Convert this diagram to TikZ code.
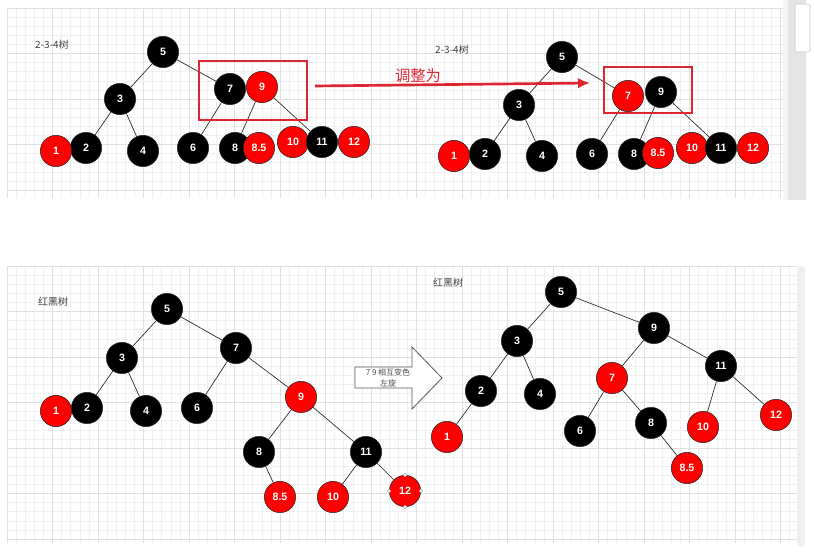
\documentclass[tikz,border=0pt]{standalone}
\usepackage{fontspec}
\setsansfont{Liberation Sans}
\newfontfamily\cjk{Noto Sans CJK SC}
\usepackage{tikz}
\usetikzlibrary{arrows.meta,backgrounds}
\usepackage{xcolor}
\definecolor{nodered}{RGB}{255,0,0}
\definecolor{boxred}{RGB}{222,38,48}
\definecolor{gridminor}{RGB}{240,240,240}
\definecolor{gridmajor}{RGB}{224,224,224}
\tikzset{
  bnode/.style={circle, draw=black!85, fill=black, text=white, minimum size=23.5pt, inner sep=0pt,
    font=\sffamily\bfseries\fontsize{8}{9}\selectfont},
  rnode/.style={bnode, fill=nodered},
  link/.style={draw=black!85, line width=0.5pt},
  title/.style={font=\cjk\fontsize{7.5}{9}\selectfont, text=black!75},
}
\begin{document}
\begin{tikzpicture}[x=0.75pt, y=-0.75pt]
        \useasboundingbox (0,0) rectangle (814,553);
        \begin{scope}[on background layer]
          \foreach \x in {0,...,85} {
            \draw[gridminor, line width=0.4pt] ({7+9.1*\x},8) -- ({7+9.1*\x},198);
          }
          \foreach \y in {0,...,20} {
            \draw[gridminor, line width=0.4pt] (7,{8+9.1*\y}) -- (783,{8+9.1*\y});
          }
          \foreach \x in {0,...,86} {
            \draw[gridminor, line width=0.4pt] ({7+9.1*\x},266) -- ({7+9.1*\x},543);
          }
          \foreach \y in {0,...,30} {
            \draw[gridminor, line width=0.4pt] (7,{266+9.1*\y}) -- (797,{266+9.1*\y});
          }
          \foreach \x in {0,...,17} {
            \draw[gridmajor, line width=0.4pt] ({7+45.5*\x},8) -- ({7+45.5*\x},198);
            \draw[gridmajor, line width=0.4pt] ({7+45.5*\x},266) -- ({7+45.5*\x},543);
          }
          \foreach \y in {0,...,4} {
            \draw[gridmajor, line width=0.4pt] (7,{8+45.5*\y}) -- (783,{8+45.5*\y});
          }
          \foreach \y in {0,...,6} {
            \draw[gridmajor, line width=0.4pt] (7,{266+45.5*\y}) -- (797,{266+45.5*\y});
          }
          \fill[gray!8] (783,0) rectangle (788,200);
          \fill[gray!20] (788,0) rectangle (806,200);
          \draw[gray!45, fill=white, rounded corners=1.5] (795,4) rectangle (810,52);
          \fill[gray!12, rounded corners=3] (797,266) rectangle (805,547);
        \end{scope}

        \node[title] (tltitle) at (52,45) {2-3-4树};
        \node[bnode] (tl5) at (163,52) {5};
        \node[bnode] (tl3) at (120,99) {3};
        \node[bnode] (tl7) at (230,89) {7};
        \node[rnode] (tl9) at (262,87) {9};
        \node[bnode] (tl2) at (86,148) {2};
        \node[rnode] (tl1) at (56,151) {1};
        \node[bnode] (tl4) at (143,151) {4};
        \node[bnode] (tl6) at (193,148) {6};
        \node[bnode] (tl8) at (235,148) {8};
        \node[rnode] (tl85) at (259,148) {8.5};
        \node[rnode] (tl10) at (293,142) {10};
        \node[bnode] (tl11) at (322,142) {11};
        \node[rnode] (tl12) at (354,142) {12};
        \draw[boxred, line width=1.5pt] (199,61) rectangle (307,120);

        \coordinate (arrowfrom) at (315,86);
        \coordinate (arrowto) at (590,83);
        \draw[boxred, line width=2pt, -{Latex[length=9pt,width=8pt]}] (arrowfrom) -- (arrowto);
        \node[font=\cjk\fontsize{11.5}{13}\selectfont, text=boxred] (adjust) at (418,76) {调整为};

        \node[title] (trtitle) at (452,50) {2-3-4树};
        \node[bnode] (tr5) at (562,57) {5};
        \node[bnode] (tr3) at (519,105) {3};
        \node[rnode] (tr7) at (628,96) {7};
        \node[bnode] (tr9) at (661,92) {9};
        \node[bnode] (tr2) at (485,154) {2};
        \node[rnode] (tr1) at (454,156) {1};
        \node[bnode] (tr4) at (542,156) {4};
        \node[bnode] (tr6) at (592,154) {6};
        \node[bnode] (tr8) at (634,154) {8};
        \node[rnode] (tr85) at (658,153) {8.5};
        \node[rnode] (tr10) at (692,148) {10};
        \node[bnode] (tr11) at (721,148) {11};
        \node[rnode] (tr12) at (753,148) {12};
        \draw[boxred, line width=1.5pt] (604,67) rectangle (692,113);

        \node[title] (bltitle) at (53,302) {红黑树};
        \node[bnode] (bl5) at (167,309) {5};
        \node[bnode] (bl3) at (122,358) {3};
        \node[bnode] (bl7) at (236,348) {7};
        \node[bnode] (bl2) at (87,408) {2};
        \node[rnode] (bl1) at (56,411) {1};
        \node[bnode] (bl4) at (146,411) {4};
        \node[bnode] (bl6) at (197,408) {6};
        \node[rnode] (bl9) at (301,397) {9};
        \node[bnode] (bl8) at (259,452) {8};
        \node[bnode] (bl11) at (366,452) {11};
        \node[rnode] (bl85) at (280,497) {8.5};
        \node[rnode] (bl10) at (333,497) {10};
        \node[rnode] (bl12) at (405,491) {12};
        \foreach \an in {north,south,east,west} {
          \draw[gray!70, fill=white, line width=0.3pt] (bl12.\an) circle (1.8);
        }

        \draw[black!65, fill=white, line width=0.6pt] (355,367) -- (412,367) -- (412,347) -- (442,378)
          -- (412,409) -- (412,388) -- (355,388) -- cycle;
        \node[font=\cjk\fontsize{6}{8}\selectfont, text=black!70, align=center] (rotate) at (388,378)
          {7 9 相互变色\\左旋};

        \node[title] (brtitle) at (448,283) {红黑树};
        \node[bnode] (br5) at (561,292) {5};
        \node[bnode] (br3) at (517,341) {3};
        \node[bnode] (br9) at (654,328) {9};
        \node[bnode] (br2) at (481,391) {2};
        \node[bnode] (br4) at (540,394) {4};
        \node[rnode] (br7) at (612,378) {7};
        \node[bnode] (br11) at (721,366) {11};
        \node[rnode] (br1) at (447,437) {1};
        \node[bnode] (br6) at (580,431) {6};
        \node[bnode] (br8) at (651,423) {8};
        \node[rnode] (br10) at (703,427) {10};
        \node[rnode] (br12) at (776,415) {12};
        \node[rnode] (br85) at (687,468) {8.5};

        \begin{scope}[on background layer]
          \foreach \a/\b in {5/3,5/7,3/2,3/4,7/6,9/8,9/11} {
            \draw[link] (tl\a) -- (tl\b);
            \draw[link] (tr\a) -- (tr\b);
          }
          \foreach \a/\b in {5/3,5/7,3/2,3/4,7/6,7/9,9/8,9/11,8/85,11/10,11/12} {
            \draw[link] (bl\a) -- (bl\b);
          }
          \foreach \a/\b in {5/3,5/9,3/2,3/4,2/1,9/7,9/11,7/6,7/8,8/85,11/10,11/12} {
            \draw[link] (br\a) -- (br\b);
          }
        \end{scope}
      \end{tikzpicture}
\end{document}
